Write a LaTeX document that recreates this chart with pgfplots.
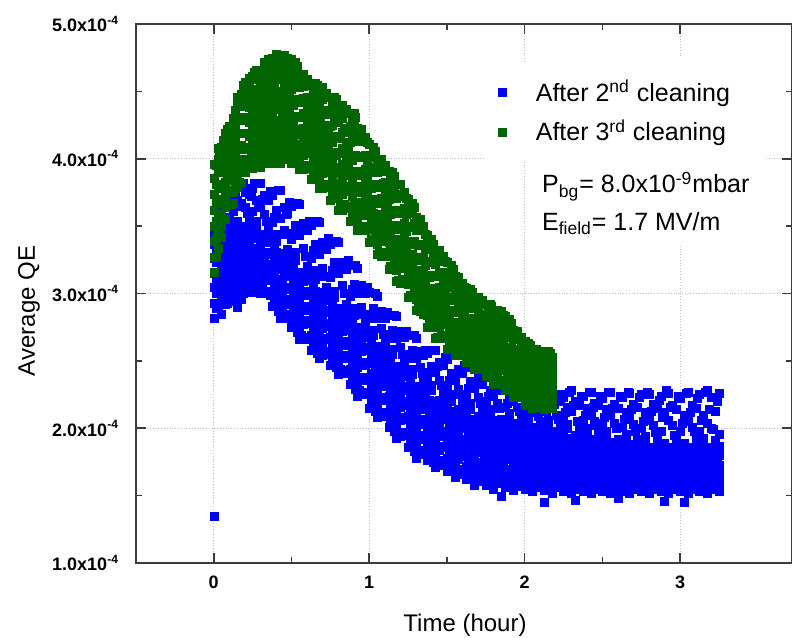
\documentclass[border=0pt]{standalone}
\usepackage{fontspec}
\setmainfont{Liberation Sans}
\usepackage{pgfplots}
\pgfplotsset{compat=1.18}
\usepackage{pgfplotstable}
\definecolor{myblue}{RGB}{0,0,250}
\definecolor{mygreen}{RGB}{0,100,0}
\definecolor{axgray}{RGB}{60,60,60}

\pgfplotstableread{
x a b c d e f g h
0.000 2.82 2.93 3.05 3.15 3.26 3.37 3.43 3.48
0.025 2.89 3.01 3.12 3.23 3.34 3.43 3.45 3.51
0.050 2.85 2.96 3.08 3.18 3.29 3.40 3.55 3.62
0.075 2.92 3.05 3.16 3.28 3.39 3.47 3.57 3.64
0.100 2.98 3.11 3.23 3.35 3.46 3.53 3.56 3.68
0.125 2.94 3.06 3.18 3.29 3.41 3.52 3.61 3.73
0.150 3.00 3.12 3.23 3.34 3.45 3.54 2.90 3.69
0.175 2.96 3.06 3.17 3.27 3.37 3.48 3.67 3.81
0.200 3.02 3.13 3.23 3.33 3.44 3.50 3.64 3.75
0.225 3.06 3.17 3.26 3.37 3.46 3.52 3.56 3.74
0.250 3.01 3.11 3.21 3.30 3.41 3.50 3.61 3.78
0.275 3.05 3.15 3.24 3.33 3.42 3.50 3.54 3.69
0.300 3.00 3.09 3.18 3.26 3.35 3.44 3.65 3.82
0.325 3.00 3.10 3.19 3.28 3.38 3.44 3.59 3.73
0.350 3.00 3.10 3.19 3.29 3.38 3.43 3.47 3.69
0.375 2.91 3.01 3.11 3.20 3.31 3.40 3.53 3.73
0.400 2.91 3.02 3.11 3.21 3.31 3.39 3.44 3.62
0.425 2.82 2.91 3.02 3.11 3.21 3.30 3.56 3.77
0.450 2.83 2.93 3.03 3.13 3.23 3.30 3.47 3.64
0.475 2.83 2.94 3.04 3.14 3.23 3.29 3.33 3.60
0.500 2.75 2.85 2.96 3.05 3.15 3.25 3.40 3.65
0.525 2.75 2.86 2.96 3.06 3.16 3.25 3.31 3.51
0.550 2.66 2.76 2.87 2.96 3.06 3.16 3.43 3.66
0.575 2.66 2.77 2.88 2.99 3.09 3.16 3.34 3.52
0.600 2.66 2.78 2.88 2.99 3.10 3.16 3.20 3.47
0.625 2.58 2.69 2.80 2.90 3.01 3.12 3.26 3.51
0.650 2.60 2.71 2.81 2.92 3.02 3.11 3.17 3.37
0.675 2.52 2.62 2.72 2.81 2.91 3.01 3.29 3.53
0.700 2.54 2.64 2.74 2.84 2.94 3.01 3.19 3.38
0.725 2.55 2.66 2.76 2.86 2.95 3.01 3.05 3.33
0.750 2.47 2.57 2.68 2.77 2.87 2.97 3.12 3.37
0.775 2.49 2.60 2.69 2.79 2.89 2.97 3.02 3.23
0.800 2.40 2.49 2.60 2.69 2.79 2.88 3.15 3.38
0.825 2.41 2.52 2.62 2.72 2.82 2.89 3.06 3.23
0.850 2.41 2.52 2.62 2.73 2.82 2.88 2.92 3.18
0.875 2.33 2.44 2.54 2.64 2.75 2.85 2.98 3.21
0.900 2.34 2.45 2.55 2.65 2.75 2.84 2.89 3.07
0.925 2.24 2.34 2.45 2.54 2.65 2.75 3.00 3.19
0.950 2.25 2.36 2.47 2.57 2.67 2.74 2.90 3.06
0.975 2.25 2.36 2.47 2.58 2.68 2.74 2.78 3.00
1.000 2.15 2.26 2.38 2.48 2.59 2.70 2.82 3.01
1.025 2.16 2.28 2.38 2.49 2.60 2.69 2.73 2.89
1.050 2.08 2.18 2.30 2.39 2.50 2.61 2.82 2.98
1.075 2.09 2.21 2.31 2.42 2.53 2.60 2.74 2.87
1.100 2.10 2.22 2.32 2.43 2.54 2.60 2.64 2.82
1.125 2.01 2.12 2.24 2.34 2.45 2.56 2.67 2.84
1.150 2.02 2.14 2.24 2.35 2.46 2.55 2.59 2.73
1.175 1.93 2.03 2.15 2.24 2.35 2.46 2.67 2.83
1.200 1.94 2.06 2.16 2.27 2.38 2.45 2.60 2.72
1.225 1.95 2.07 2.17 2.28 2.39 2.45 2.49 2.68
1.250 1.86 1.97 2.09 2.19 2.30 2.41 2.52 2.69
1.275 1.87 1.99 2.09 2.20 2.31 2.40 2.44 2.58
1.300 1.78 1.88 2.00 2.09 2.20 2.31 2.52 2.67
1.325 1.81 1.92 2.03 2.14 2.24 2.31 2.45 2.57
1.350 1.83 1.94 2.05 2.16 2.26 2.32 2.36 2.54
1.375 1.76 1.87 1.97 2.07 2.18 2.28 2.39 2.56
1.400 1.78 1.89 1.99 2.09 2.19 2.28 2.32 2.46
1.425 1.71 1.81 1.91 2.00 2.10 2.20 2.42 2.58
1.450 1.73 1.84 1.94 2.04 2.15 2.21 2.36 2.49
1.475 1.75 1.86 1.96 2.07 2.16 2.22 2.26 2.47
1.500 1.68 1.78 1.89 1.98 2.09 2.19 2.31 2.51
1.525 1.71 1.82 1.91 2.01 2.11 2.20 2.25 2.41
1.550 1.64 1.74 1.84 1.93 2.03 2.13 2.36 2.54
1.575 1.66 1.77 1.87 1.97 2.07 2.14 2.29 2.44
1.600 1.68 1.79 1.89 2.00 2.09 2.15 2.19 2.41
1.625 1.62 1.72 1.83 1.92 2.03 2.13 2.25 2.45
1.650 1.65 1.76 1.85 1.95 2.05 2.14 2.19 2.35
1.675 1.58 1.68 1.78 1.87 1.97 2.07 2.30 2.47
1.700 1.61 1.72 1.82 1.92 2.02 2.09 2.23 2.37
1.725 1.64 1.75 1.85 1.95 2.04 2.10 2.14 2.33
1.750 1.58 1.68 1.79 1.88 1.99 2.09 2.20 2.38
1.775 1.62 1.73 1.82 1.92 2.02 2.10 2.14 2.28
1.800 1.55 1.64 1.75 1.84 1.94 2.03 2.24 2.39
1.825 1.59 1.69 1.79 1.89 1.99 2.06 2.19 2.30
1.850 1.62 1.73 1.82 1.92 2.01 2.07 1.50 2.28
1.875 1.56 1.66 1.77 1.86 1.96 2.06 2.16 2.31
1.900 1.59 1.70 1.79 1.89 1.99 2.07 2.11 2.23
1.925 1.54 1.63 1.73 1.82 1.92 2.02 2.20 2.33
1.950 1.57 1.67 1.77 1.87 1.97 2.04 2.16 2.26
1.975 1.60 1.71 1.80 1.90 1.99 2.05 2.08 2.23
2.000 1.55 1.65 1.75 1.84 1.95 2.04 2.13 2.26
2.025 1.58 1.69 1.78 1.87 1.97 2.05 2.08 2.19
2.050 1.53 1.62 1.72 1.80 1.89 1.99 2.16 2.29
2.075 1.56 1.66 1.75 1.85 1.94 2.01 2.12 2.23
2.100 1.59 1.69 1.78 1.88 1.97 2.02 2.05 2.21
2.125 1.54 1.63 1.73 1.82 1.91 2.00 1.45 2.24
2.150 1.57 1.67 1.76 1.85 1.94 2.02 2.06 2.18
2.175 1.52 1.61 1.70 1.78 1.87 1.96 2.15 2.28
2.200 1.56 1.65 1.74 1.83 1.92 1.98 2.10 2.21
2.225 1.58 1.68 1.77 1.86 1.94 2.00 2.03 2.20
2.250 1.53 1.63 1.72 1.80 1.89 1.98 2.07 2.23
2.275 1.57 1.66 1.75 1.83 1.92 2.00 2.03 2.16
2.300 1.52 1.60 1.69 1.76 1.85 1.93 2.13 2.28
2.325 1.55 1.64 1.73 1.81 1.90 1.95 1.47 2.20
2.350 1.58 1.67 1.75 1.84 1.92 1.97 2.00 2.17
2.375 1.53 1.62 1.71 1.79 1.87 1.96 2.06 2.24
2.400 1.56 1.66 1.73 1.81 1.89 1.97 2.00 2.15
2.425 1.52 1.60 1.68 1.75 1.84 1.92 2.11 2.27
2.450 1.55 1.63 1.71 1.79 1.87 1.92 2.05 2.19
2.475 1.58 1.66 1.74 1.82 1.89 1.94 1.97 2.17
2.500 1.53 1.61 1.70 1.77 1.85 1.93 2.04 2.22
2.525 1.56 1.65 1.72 1.79 1.87 1.94 1.98 2.14
2.550 1.52 1.59 1.67 1.74 1.81 1.89 2.10 2.27
2.575 1.55 1.63 1.70 1.77 1.85 1.90 2.04 2.18
2.600 1.57 1.66 1.73 1.80 1.87 1.92 1.48 2.15
2.625 1.53 1.61 1.68 1.75 1.83 1.90 2.01 2.23
2.650 1.56 1.64 1.71 1.78 1.85 1.92 1.96 2.12
2.675 1.52 1.59 1.66 1.72 1.79 1.86 2.08 2.26
2.700 1.55 1.62 1.69 1.76 1.83 1.88 2.03 2.18
2.725 1.57 1.65 1.71 1.78 1.85 1.89 1.92 2.16
2.750 1.53 1.60 1.68 1.74 1.81 1.88 2.00 2.25
2.775 1.56 1.63 1.70 1.77 1.84 1.90 1.94 2.12
2.800 1.52 1.58 1.65 1.71 1.78 1.85 2.06 2.25
2.825 1.55 1.62 1.68 1.75 1.82 1.86 2.02 2.18
2.850 1.57 1.64 1.71 1.78 1.84 1.88 1.91 2.15
2.875 1.53 1.60 1.67 1.73 1.80 1.87 1.98 2.24
2.900 1.56 1.63 1.69 1.76 1.83 1.89 1.46 2.12
2.925 1.52 1.58 1.65 1.71 1.78 1.85 2.06 2.26
2.950 1.55 1.62 1.68 1.75 1.82 1.86 2.02 2.17
2.975 1.57 1.64 1.71 1.78 1.84 1.88 1.91 2.14
3.000 1.53 1.60 1.67 1.73 1.80 1.87 1.98 2.22
3.025 1.56 1.63 1.69 1.76 1.83 1.89 1.45 2.10
3.050 1.52 1.58 1.65 1.71 1.78 1.85 2.05 2.27
3.075 1.55 1.62 1.68 1.75 1.82 1.86 2.01 2.17
3.100 1.57 1.64 1.71 1.78 1.84 1.88 1.91 2.15
3.125 1.53 1.60 1.67 1.73 1.80 1.87 1.98 2.25
3.150 1.56 1.63 1.69 1.76 1.83 1.89 1.93 2.10
3.175 1.52 1.58 1.65 1.71 1.78 1.85 2.04 2.28
3.200 1.55 1.62 1.68 1.75 1.82 1.86 2.00 2.23
3.225 1.57 1.64 1.71 1.78 1.84 1.88 1.91 2.13
3.250 1.53 1.60 1.67 1.73 1.80 1.87 1.96 2.26
}\bluedata

\pgfplotstableread{
x a b c d e f
0.0125 2.89 3.00 3.11 3.23 3.33 3.46
0.0375 2.93 3.04 3.16 3.27 3.39 3.49
0.0625 2.97 3.09 3.21 3.32 3.44 3.64
0.0875 2.93 3.04 3.17 3.29 3.40 3.71
0.1125 2.97 3.08 3.20 3.32 3.43 3.68
0.1375 3.03 3.15 3.27 3.38 3.49 3.75
0.1625 3.02 3.13 3.24 3.36 3.46 3.65
0.1875 3.00 3.11 3.22 3.33 3.43 3.82
0.2125 3.06 3.17 3.28 3.38 3.48 3.60
0.2375 3.04 3.14 3.24 3.34 3.43 3.72
0.2625 3.03 3.12 3.22 3.32 3.41 3.82
0.2875 3.06 3.15 3.25 3.34 3.43 3.64
0.3125 3.03 3.12 3.21 3.31 3.39 3.70
0.3375 3.02 3.12 3.22 3.31 3.40 3.54
0.3625 2.99 3.10 3.20 3.29 3.39 3.76
0.3875 2.94 3.03 3.14 3.24 3.33 3.57
0.4125 2.87 2.97 3.07 3.18 3.27 3.77
0.4375 2.88 2.99 3.09 3.19 3.29 3.44
0.4625 2.82 2.92 3.03 3.13 3.22 3.59
0.4875 2.83 2.94 3.05 3.14 3.24 3.68
0.5125 2.78 2.88 2.98 3.09 3.19 3.45
0.5375 2.71 2.81 2.92 3.03 3.13 3.67
0.5625 2.69 2.80 2.91 3.01 3.11 3.49
0.5875 2.68 2.80 2.91 3.02 3.12 3.28
0.6125 2.67 2.78 2.90 3.00 3.11 3.54
0.6375 2.62 2.73 2.84 2.95 3.05 3.32
0.6625 2.56 2.67 2.78 2.88 2.98 3.54
0.6875 2.56 2.66 2.77 2.87 2.96 3.35
0.7125 2.57 2.67 2.78 2.88 2.97 3.13
0.7375 2.55 2.66 2.77 2.86 2.96 3.41
0.7625 2.51 2.61 2.71 2.81 2.91 3.17
0.7875 2.45 2.55 2.65 2.76 2.85 3.39
0.8125 2.44 2.54 2.64 2.74 2.84 3.20
0.8375 2.43 2.54 2.65 2.75 2.85 3.00
0.8625 2.42 2.52 2.64 2.73 2.83 3.25
0.8875 2.36 2.47 2.57 2.68 2.78 3.03
0.9125 2.29 2.40 2.51 2.62 2.71 3.21
0.9375 2.28 2.38 2.49 2.60 2.69 3.04
0.9625 2.27 2.38 2.49 2.60 2.70 2.85
0.9875 2.25 2.36 2.48 2.58 2.69 3.05
1.0125 2.19 2.30 2.41 2.52 2.63 2.85
1.0375 2.13 2.23 2.35 2.46 2.56 3.00
1.0625 2.12 2.23 2.34 2.45 2.55 2.85
1.0875 2.12 2.23 2.35 2.46 2.56 2.70
1.1125 2.10 2.22 2.34 2.44 2.55 2.86
1.1375 2.05 2.16 2.27 2.38 2.49 2.70
1.1625 1.98 2.09 2.20 2.32 2.42 2.84
1.1875 1.97 2.08 2.19 2.30 2.40 2.71
1.2125 1.97 2.08 2.20 2.31 2.41 2.55
1.2375 1.95 2.07 2.19 2.29 2.40 2.72
1.2625 1.90 2.01 2.12 2.23 2.34 2.55
1.2875 1.83 1.94 2.05 2.17 2.27 2.69
1.3125 1.83 1.94 2.05 2.16 2.26 2.55
1.3375 1.84 1.95 2.07 2.17 2.28 2.41
1.3625 1.84 1.95 2.06 2.16 2.27 2.58
1.3875 1.80 1.90 2.01 2.12 2.21 2.42
1.4125 1.75 1.85 1.96 2.07 2.16 2.58
1.4375 1.75 1.85 1.96 2.06 2.16 2.46
1.4625 1.76 1.87 1.98 2.08 2.18 2.32
1.4875 1.76 1.87 1.98 2.07 2.17 2.53
1.5125 1.72 1.82 1.93 2.04 2.13 2.36
1.5375 1.68 1.78 1.89 1.99 2.09 2.55
1.5625 1.68 1.78 1.89 1.99 2.08 2.41
1.5875 1.69 1.80 1.91 2.01 2.11 2.25
1.6125 1.70 1.80 1.91 2.01 2.11 2.47
1.6375 1.66 1.76 1.87 1.98 2.07 2.30
1.6625 1.62 1.72 1.83 1.93 2.03 2.48
1.6875 1.63 1.73 1.83 1.93 2.03 2.34
1.7125 1.65 1.75 1.86 1.96 2.06 2.19
1.7375 1.65 1.76 1.87 1.96 2.06 2.40
1.7625 1.63 1.73 1.83 1.94 2.03 2.24
1.7875 1.59 1.69 1.79 1.90 1.99 2.39
1.8125 1.60 1.70 1.80 1.90 1.99 2.28
1.8375 1.63 1.73 1.83 1.93 2.03 2.15
1.8625 1.63 1.74 1.84 1.94 2.04 2.33
1.8875 1.61 1.70 1.81 1.91 2.00 2.19
1.9125 1.57 1.67 1.77 1.87 1.97 2.33
1.9375 1.58 1.68 1.79 1.88 1.98 2.23
1.9625 1.61 1.71 1.81 1.91 2.01 2.13
1.9875 1.62 1.72 1.83 1.92 2.02 2.28
2.0125 1.59 1.69 1.79 1.89 1.98 2.16
2.0375 1.56 1.65 1.75 1.85 1.94 2.28
2.0625 1.57 1.67 1.77 1.86 1.95 2.19
2.0875 1.60 1.70 1.80 1.89 1.98 2.09
2.1125 1.61 1.70 1.81 1.89 1.98 2.25
2.1375 1.59 1.68 1.77 1.87 1.95 2.13
2.1625 1.56 1.65 1.74 1.84 1.92 2.28
2.1875 1.57 1.66 1.75 1.84 1.93 2.18
2.2125 1.59 1.69 1.78 1.87 1.96 2.07
2.2375 1.60 1.69 1.79 1.87 1.96 2.25
2.2625 1.58 1.67 1.76 1.85 1.93 2.12
2.2875 1.55 1.64 1.73 1.82 1.90 2.27
2.3125 1.57 1.65 1.74 1.82 1.90 2.17
2.3375 1.59 1.68 1.76 1.85 1.93 2.05
2.3625 1.60 1.68 1.78 1.85 1.94 2.24
2.3875 1.58 1.66 1.75 1.83 1.91 2.10
2.4125 1.55 1.63 1.72 1.80 1.88 2.27
2.4375 1.56 1.64 1.73 1.81 1.88 2.16
2.4625 1.59 1.67 1.75 1.83 1.90 2.02
2.4875 1.59 1.67 1.76 1.83 1.91 2.24
2.5125 1.58 1.65 1.73 1.81 1.88 2.08
2.5375 1.55 1.62 1.70 1.78 1.85 2.27
2.5625 1.56 1.64 1.71 1.79 1.86 2.15
2.5875 1.58 1.66 1.74 1.81 1.88 2.00
2.6125 1.59 1.67 1.75 1.81 1.89 2.24
2.6375 1.57 1.64 1.72 1.79 1.86 2.07
2.6625 1.55 1.62 1.69 1.77 1.83 2.27
2.6875 1.56 1.63 1.70 1.77 1.84 2.14
2.7125 1.58 1.65 1.72 1.79 1.86 1.98
2.7375 1.59 1.66 1.73 1.80 1.86 2.23
2.7625 1.57 1.64 1.71 1.78 1.84 2.05
2.7875 1.55 1.61 1.68 1.75 1.82 2.27
2.8125 1.56 1.63 1.69 1.76 1.83 2.13
2.8375 1.58 1.65 1.72 1.78 1.85 1.97
2.8625 1.59 1.65 1.73 1.79 1.86 2.21
2.8875 1.57 1.64 1.70 1.77 1.84 2.08
2.9125 1.54 1.61 1.68 1.75 1.81 2.28
2.9375 1.56 1.62 1.69 1.76 1.82 2.16
2.9625 1.58 1.64 1.72 1.78 1.85 1.95
2.9875 1.58 1.66 1.73 1.80 1.86 2.24
3.0125 1.57 1.63 1.71 1.78 1.84 2.04
3.0375 1.55 1.62 1.68 1.75 1.82 2.26
3.0625 1.56 1.62 1.70 1.76 1.82 2.12
3.0875 1.58 1.65 1.71 1.78 1.85 1.98
3.1125 1.59 1.65 1.73 1.79 1.86 2.22
3.1375 1.57 1.64 1.71 1.77 1.84 2.06
3.1625 1.55 1.61 1.68 1.75 1.81 2.27
3.1875 1.56 1.63 1.69 1.76 1.82 2.14
3.2125 1.58 1.65 1.72 1.78 1.85 1.99
3.2375 1.58 1.66 1.73 1.79 1.86 2.20
}\blueB

\pgfplotstableread{
x a b c d e f g h
0.000 3.16 3.27 3.39 3.50 3.62 3.74 3.86 3.96
0.025 3.34 3.45 3.56 3.67 3.78 3.90 4.00 4.08
0.050 3.42 3.50 3.60 3.70 3.79 3.90 4.00 4.09
0.075 3.55 3.64 3.73 3.83 3.93 4.02 4.11 4.19
0.100 3.66 3.76 3.85 3.94 4.04 4.13 4.21 4.24
0.125 3.67 3.75 3.84 3.94 4.03 4.12 4.21 4.30
0.150 3.79 3.89 3.99 4.09 4.19 4.29 4.39 4.46
0.175 3.82 3.90 4.00 4.10 4.19 4.29 4.39 4.48
0.200 3.90 4.00 4.09 4.19 4.30 4.40 4.49 4.57
0.225 3.96 4.07 4.17 4.27 4.38 4.48 4.57 4.60
0.250 3.93 4.02 4.12 4.22 4.32 4.42 4.52 4.61
0.275 3.98 4.08 4.19 4.29 4.39 4.49 4.59 4.66
0.300 3.94 4.02 4.13 4.24 4.34 4.44 4.55 4.65
0.325 3.97 4.08 4.18 4.30 4.41 4.52 4.63 4.72
0.350 4.02 4.14 4.26 4.37 4.49 4.61 4.71 4.74
0.375 3.97 4.07 4.19 4.30 4.41 4.53 4.64 4.75
0.400 4.03 4.14 4.25 4.37 4.48 4.59 4.70 4.78
0.425 3.97 4.06 4.17 4.29 4.39 4.50 4.62 4.72
0.450 4.00 4.12 4.22 4.33 4.46 4.57 4.67 4.77
0.475 4.04 4.16 4.27 4.39 4.51 4.62 4.72 4.75
0.500 3.97 4.07 4.18 4.30 4.41 4.52 4.63 4.74
0.525 3.99 4.10 4.21 4.32 4.43 4.54 4.64 4.72
0.550 3.92 4.00 4.11 4.22 4.32 4.42 4.53 4.63
0.575 3.92 4.03 4.12 4.23 4.34 4.45 4.54 4.63
0.600 3.93 4.04 4.14 4.24 4.36 4.46 4.56 4.59
0.625 3.85 3.94 4.05 4.15 4.25 4.36 4.46 4.56
0.650 3.86 3.97 4.07 4.18 4.28 4.39 4.49 4.56
0.675 3.78 3.86 3.97 4.08 4.18 4.29 4.40 4.50
0.700 3.78 3.89 3.99 4.11 4.22 4.33 4.44 4.53
0.725 3.79 3.91 4.02 4.13 4.25 4.36 4.46 4.49
0.750 3.69 3.79 3.90 4.02 4.13 4.24 4.35 4.46
0.775 3.71 3.82 3.93 4.05 4.16 4.27 4.38 4.46
0.800 3.62 3.71 3.82 3.94 4.04 4.15 4.27 4.37
0.825 3.62 3.74 3.84 3.96 4.08 4.20 4.30 4.40
0.850 3.63 3.76 3.88 3.99 4.12 4.23 4.34 4.37
0.875 3.54 3.65 3.77 3.88 4.00 4.12 4.24 4.34
0.900 3.56 3.68 3.79 3.91 4.03 4.15 4.26 4.34
0.925 3.47 3.56 3.68 3.79 3.90 4.01 4.13 4.23
0.950 3.47 3.58 3.68 3.80 3.91 4.02 4.13 4.22
0.975 3.47 3.59 3.70 3.81 3.92 4.03 4.13 4.16
1.000 3.38 3.48 3.58 3.69 3.80 3.90 4.01 4.11
1.025 3.38 3.49 3.60 3.70 3.81 3.92 4.01 4.09
1.050 3.29 3.37 3.48 3.59 3.69 3.79 3.90 4.00
1.075 3.28 3.39 3.49 3.59 3.71 3.81 3.91 4.00
1.100 3.28 3.39 3.50 3.61 3.72 3.83 3.92 3.95
1.125 3.18 3.28 3.38 3.49 3.60 3.70 3.81 3.91
1.150 3.18 3.29 3.40 3.51 3.61 3.72 3.82 3.90
1.175 3.09 3.17 3.28 3.39 3.49 3.60 3.71 3.81
1.200 3.08 3.19 3.29 3.40 3.51 3.62 3.72 3.81
1.225 3.08 3.19 3.30 3.41 3.52 3.63 3.72 3.75
1.250 2.97 3.07 3.17 3.28 3.39 3.49 3.60 3.70
1.275 2.97 3.08 3.18 3.29 3.39 3.50 3.60 3.67
1.300 2.88 2.96 3.07 3.17 3.26 3.37 3.47 3.57
1.325 2.87 2.97 3.06 3.16 3.27 3.37 3.47 3.55
1.350 2.85 2.96 3.06 3.16 3.27 3.37 3.47 3.50
1.375 2.75 2.84 2.94 3.04 3.14 3.24 3.34 3.43
1.400 2.75 2.85 2.95 3.04 3.14 3.24 3.33 3.40
1.425 2.67 2.75 2.84 2.94 3.03 3.13 3.22 3.31
1.450 2.67 2.76 2.85 2.95 3.05 3.15 3.24 3.32
1.475 2.67 2.77 2.87 2.96 3.07 3.16 3.25 3.28
1.500 2.59 2.67 2.77 2.86 2.96 3.05 3.14 3.23
1.525 2.61 2.70 2.79 2.88 2.97 3.06 3.15 3.21
1.550 2.54 2.61 2.70 2.79 2.87 2.96 3.04 3.13
1.575 2.54 2.63 2.71 2.79 2.89 2.97 3.05 3.12
1.600 2.55 2.64 2.72 2.81 2.90 2.98 3.05 3.08
1.625 2.49 2.56 2.64 2.72 2.80 2.89 2.97 3.04
1.650 2.50 2.58 2.66 2.74 2.82 2.90 2.97 3.03
1.675 2.44 2.50 2.58 2.66 2.73 2.81 2.89 2.96
1.700 2.44 2.52 2.59 2.67 2.76 2.83 2.91 2.97
1.725 2.45 2.53 2.61 2.69 2.78 2.85 2.93 2.95
1.750 2.39 2.46 2.54 2.62 2.69 2.77 2.85 2.92
1.775 2.40 2.48 2.56 2.63 2.71 2.79 2.86 2.92
1.800 2.33 2.39 2.48 2.56 2.63 2.71 2.79 2.87
1.825 2.33 2.41 2.49 2.57 2.66 2.74 2.81 2.88
1.850 2.34 2.43 2.51 2.60 2.69 2.77 2.84 2.87
1.875 2.28 2.35 2.43 2.51 2.59 2.68 2.76 2.83
1.900 2.29 2.37 2.45 2.52 2.60 2.68 2.75 2.81
1.925 2.23 2.29 2.37 2.44 2.51 2.59 2.66 2.73
1.950 2.23 2.30 2.37 2.44 2.52 2.59 2.66 2.72
1.975 2.24 2.31 2.38 2.45 2.53 2.60 2.66 2.68
2.000 2.17 2.24 2.31 2.38 2.44 2.51 2.58 2.65
2.025 2.19 2.26 2.32 2.39 2.46 2.52 2.58 2.63
2.050 2.15 2.20 2.27 2.33 2.39 2.45 2.52 2.58
2.075 2.16 2.22 2.28 2.34 2.41 2.47 2.53 2.59
2.100 2.18 2.25 2.31 2.37 2.43 2.50 2.55 2.57
2.125 2.14 2.20 2.26 2.32 2.38 2.44 2.50 2.56
2.150 2.17 2.23 2.29 2.35 2.41 2.47 2.53 2.57
2.175 2.15 2.20 2.25 2.31 2.36 2.42 2.48 2.53
}\greendata

\pgfplotstableread{
x a b c d e f
0.0125 3.27 3.41 3.54 3.68 3.81 3.95
0.0375 3.43 3.56 3.68 3.81 3.94 4.06
0.0625 3.55 3.67 3.79 3.90 4.02 4.14
0.0875 3.66 3.77 3.89 4.00 4.11 4.22
0.1125 3.66 3.76 3.87 3.98 4.08 4.19
0.1375 3.78 3.90 4.02 4.13 4.25 4.36
0.1625 3.83 3.95 4.07 4.19 4.30 4.42
0.1875 3.95 4.07 4.19 4.31 4.43 4.55
0.2125 3.96 4.08 4.19 4.31 4.43 4.55
0.2375 3.94 4.05 4.17 4.29 4.40 4.52
0.2625 4.03 4.16 4.28 4.40 4.52 4.64
0.2875 3.99 4.11 4.23 4.36 4.48 4.61
0.3125 3.97 4.09 4.22 4.35 4.47 4.61
0.3375 4.03 4.16 4.29 4.43 4.56 4.69
0.3625 4.05 4.19 4.33 4.46 4.60 4.73
0.3875 4.02 4.16 4.29 4.43 4.56 4.69
0.4125 4.09 4.23 4.37 4.50 4.64 4.77
0.4375 4.05 4.19 4.32 4.46 4.59 4.72
0.4625 4.00 4.13 4.26 4.40 4.53 4.66
0.4875 4.06 4.20 4.33 4.46 4.60 4.73
0.5125 4.01 4.14 4.27 4.40 4.53 4.66
0.5375 4.05 4.18 4.31 4.44 4.57 4.69
0.5625 3.94 4.06 4.18 4.31 4.43 4.55
0.5875 3.95 4.08 4.20 4.32 4.45 4.57
0.6125 3.94 4.06 4.19 4.31 4.43 4.55
0.6375 3.88 4.00 4.12 4.25 4.37 4.50
0.6625 3.91 4.04 4.17 4.30 4.43 4.55
0.6875 3.80 3.92 4.05 4.18 4.30 4.44
0.7125 3.81 3.95 4.08 4.21 4.34 4.47
0.7375 3.80 3.93 4.07 4.19 4.33 4.46
0.7625 3.72 3.86 3.99 4.12 4.25 4.39
0.7875 3.76 3.89 4.03 4.17 4.31 4.44
0.8125 3.64 3.77 3.90 4.04 4.17 4.31
0.8375 3.66 3.80 3.93 4.07 4.21 4.34
0.8625 3.65 3.79 3.93 4.06 4.20 4.34
0.8875 3.57 3.72 3.85 3.99 4.13 4.27
0.9125 3.61 3.75 3.89 4.03 4.17 4.31
0.9375 3.49 3.62 3.75 3.88 4.01 4.15
0.9625 3.50 3.63 3.76 3.89 4.02 4.15
0.9875 3.48 3.61 3.74 3.86 3.99 4.12
1.0125 3.40 3.53 3.65 3.78 3.90 4.03
1.0375 3.42 3.55 3.68 3.81 3.94 4.06
1.0625 3.30 3.42 3.54 3.67 3.79 3.92
1.0875 3.31 3.44 3.56 3.69 3.82 3.94
1.1125 3.28 3.41 3.54 3.66 3.79 3.91
1.1375 3.20 3.33 3.46 3.59 3.71 3.84
1.1625 3.23 3.36 3.49 3.62 3.75 3.87
1.1875 3.10 3.22 3.35 3.48 3.60 3.73
1.2125 3.11 3.24 3.36 3.49 3.62 3.74
1.2375 3.08 3.21 3.33 3.46 3.59 3.71
1.2625 2.99 3.12 3.24 3.37 3.49 3.62
1.2875 3.01 3.14 3.27 3.39 3.52 3.64
1.3125 2.89 3.01 3.12 3.25 3.36 3.49
1.3375 2.89 3.01 3.13 3.25 3.37 3.49
1.3625 2.85 2.97 3.09 3.21 3.33 3.44
1.3875 2.77 2.89 3.00 3.12 3.23 3.35
1.4125 2.79 2.91 3.03 3.14 3.26 3.37
1.4375 2.68 2.79 2.90 3.02 3.13 3.25
1.4625 2.69 2.81 2.92 3.04 3.15 3.26
1.4875 2.68 2.79 2.91 3.01 3.13 3.24
1.5125 2.62 2.73 2.83 2.95 3.05 3.16
1.5375 2.65 2.75 2.86 2.97 3.08 3.18
1.5625 2.55 2.65 2.75 2.86 2.96 3.06
1.5875 2.57 2.67 2.77 2.87 2.97 3.07
1.6125 2.56 2.66 2.76 2.85 2.95 3.05
1.6375 2.51 2.61 2.70 2.80 2.89 2.99
1.6625 2.53 2.63 2.73 2.82 2.92 3.01
1.6875 2.45 2.54 2.63 2.73 2.82 2.91
1.7125 2.47 2.56 2.65 2.75 2.84 2.93
1.7375 2.46 2.55 2.65 2.74 2.83 2.92
1.7625 2.41 2.50 2.59 2.69 2.78 2.87
1.7875 2.43 2.53 2.62 2.72 2.82 2.91
1.8125 2.34 2.44 2.53 2.63 2.72 2.82
1.8375 2.36 2.46 2.55 2.65 2.75 2.84
1.8625 2.35 2.45 2.55 2.64 2.74 2.84
1.8875 2.30 2.40 2.49 2.58 2.68 2.77
1.9125 2.32 2.42 2.51 2.60 2.70 2.78
1.9375 2.24 2.33 2.41 2.50 2.59 2.68
1.9625 2.25 2.34 2.42 2.51 2.59 2.67
1.9875 2.24 2.32 2.41 2.49 2.57 2.65
2.0125 2.20 2.28 2.36 2.44 2.52 2.60
2.0375 2.23 2.30 2.38 2.46 2.54 2.62
2.0625 2.16 2.24 2.31 2.39 2.46 2.54
2.0875 2.18 2.26 2.33 2.41 2.48 2.55
2.1125 2.19 2.27 2.34 2.41 2.48 2.55
2.1375 2.17 2.24 2.31 2.39 2.45 2.53
2.1625 2.21 2.28 2.35 2.42 2.49 2.56
}\greenB

\pgfplotsset{
  bluemk/.style={only marks, mark=square*, mark size=2.0pt, color=myblue,
    mark options={draw=myblue, fill=myblue, line width=0.1pt}},
  greenmk/.style={only marks, mark=square*, mark size=2.0pt, color=mygreen,
    mark options={draw=mygreen, fill=mygreen, line width=0.1pt}},
}

\begin{document}
\begin{tikzpicture}
\begin{axis}[
  scale only axis, width=328pt, height=269.5pt,
  xmin=-0.5, xmax=3.72, ymin=1, ymax=5,
  xtick={0,1,2,3}, xticklabels={0,1,2,3},
  ytick={1,2,3,4,5},
  yticklabels={1.0x10\textsuperscript{-4},2.0x10\textsuperscript{-4},3.0x10\textsuperscript{-4},4.0x10\textsuperscript{-4},5.0x10\textsuperscript{-4}},
  minor x tick num=1, minor y tick num=1,
  tick align=inside, xtick pos=both, ytick pos=both,
  xticklabel pos=lower, yticklabel pos=left,
  major tick length=5pt, minor tick length=3pt,
  every tick/.style={axgray, line width=0.8pt},
  axis line style={axgray, line width=1.2pt},
  grid=major, major grid style={densely dotted, gray!50, line width=0.4pt},
  tick label style={font=\fontsize{9}{10}\selectfont\bfseries},
  yticklabel style={xshift=-5pt},
  xticklabel style={yshift=-3pt},
  xlabel={Time (hour)}, ylabel={Average QE},
  label style={font=\fontsize{12}{14}\selectfont},
  xlabel style={at={(axis description cs:0.5015,-0.128)}, anchor=base},
  ylabel style={at={(axis description cs:-0.154,0.4675)}, anchor=base},
  legend style={at={(axis cs:1.735,4.705)}, anchor=north west, draw=none, fill=white,
    font=\fontsize{12.5}{14}\selectfont, row sep=3.5pt, inner xsep=4pt, inner ysep=6pt},
  legend cell align=left,
  legend image code/.code={\path[draw=none,fill=none] (0pt,-1pt) rectangle (20pt,1pt); \draw plot[only marks] coordinates {(5pt,0pt)};},
]
\fill[white] (axis cs:2.015,4.75) rectangle (axis cs:3.547,3.36);
\addplot[bluemk] table[x=x,y=a] {\bluedata};
\addlegendentry{After 2\textsuperscript{nd} cleaning}
\addplot[bluemk, forget plot] table[x=x,y=b] {\bluedata};
\addplot[bluemk, forget plot] table[x=x,y=c] {\bluedata};
\addplot[bluemk, forget plot] table[x=x,y=d] {\bluedata};
\addplot[bluemk, forget plot] table[x=x,y=e] {\bluedata};
\addplot[bluemk, forget plot] table[x=x,y=f] {\bluedata};
\addplot[bluemk, forget plot] table[x=x,y=g] {\bluedata};
\addplot[bluemk, forget plot] table[x=x,y=h] {\bluedata};
\addplot[bluemk, forget plot] table[x=x,y=a] {\blueB};
\addplot[bluemk, forget plot] table[x=x,y=b] {\blueB};
\addplot[bluemk, forget plot] table[x=x,y=c] {\blueB};
\addplot[bluemk, forget plot] table[x=x,y=d] {\blueB};
\addplot[bluemk, forget plot] table[x=x,y=e] {\blueB};
\addplot[bluemk, forget plot] table[x=x,y=f] {\blueB};
\addplot[bluemk, forget plot] coordinates {(0,1.35)};
\addplot[greenmk] table[x=x,y=a] {\greendata};
\addlegendentry{After 3\textsuperscript{rd} cleaning}
\addplot[greenmk, forget plot] table[x=x,y=b] {\greendata};
\addplot[greenmk, forget plot] table[x=x,y=c] {\greendata};
\addplot[greenmk, forget plot] table[x=x,y=d] {\greendata};
\addplot[greenmk, forget plot] table[x=x,y=e] {\greendata};
\addplot[greenmk, forget plot] table[x=x,y=f] {\greendata};
\addplot[greenmk, forget plot] table[x=x,y=g] {\greendata};
\addplot[greenmk, forget plot] table[x=x,y=h] {\greendata};
\addplot[greenmk, forget plot] table[x=x,y=a] {\greenB};
\addplot[greenmk, forget plot] table[x=x,y=b] {\greenB};
\addplot[greenmk, forget plot] table[x=x,y=c] {\greenB};
\addplot[greenmk, forget plot] table[x=x,y=d] {\greenB};
\addplot[greenmk, forget plot] table[x=x,y=e] {\greenB};
\addplot[greenmk, forget plot] table[x=x,y=f] {\greenB};
\node[anchor=base west, inner sep=0pt, font=\fontsize{12.5}{14}\selectfont] at (axis cs:2.11,3.746) {P\textsubscript{bg}= 8.0x10\textsuperscript{-9}mbar};
\node[anchor=base west, inner sep=0pt, font=\fontsize{12.5}{14}\selectfont] at (axis cs:2.11,3.471) {E\textsubscript{field}= 1.7 MV/m};
\end{axis}
\pgfresetboundingbox
\useasboundingbox ([shift={(-68pt,-37.5pt)}]current axis.south west) rectangle ([shift={(0pt,12pt)}]current axis.north east);
\end{tikzpicture}
\end{document}
